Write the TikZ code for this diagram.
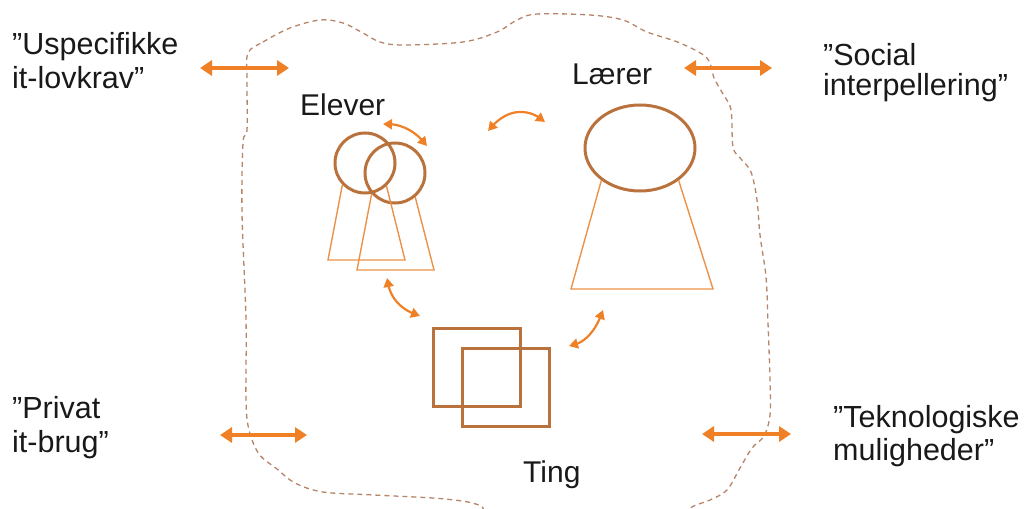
\documentclass[tikz,border=0pt]{standalone}
\usepackage{fontspec}
\newfontfamily\lsans{Liberation Sans}
\usetikzlibrary{arrows.meta,bending,shapes.geometric}
\definecolor{arrorange}{RGB}{240,128,38}
\definecolor{shapebrown}{RGB}{186,114,60}
\definecolor{trapor}{RGB}{236,146,72}
\definecolor{dashbrown}{RGB}{182,132,102}
\definecolor{txt}{RGB}{25,25,25}
\begin{document}
\begin{tikzpicture}[x=1pt,y=-1pt,
  lbl/.style={font=\lsans\fontsize{30.5}{34}\selectfont, text=txt, inner sep=0pt, anchor=north west, align=left},
  tagtext/.style={font=\lsans\fontsize{30}{34}\selectfont, text=txt, inner sep=0pt, anchor=base west},
  boundary/.style={draw=dashbrown, line width=1.3pt, dash pattern=on 5pt off 4pt},
  bigarrow/.style={draw=arrorange, line width=4pt, {Triangle[width=15pt,length=12pt]}-{Triangle[width=15pt,length=12pt]}},
  smallarrow/.style={draw=arrorange, line width=2.2pt, {Triangle[width=10pt,length=9pt,flex]}-{Triangle[width=10pt,length=9pt,flex]}},
  headshape/.style={draw=shapebrown, line width=3pt, inner sep=0pt},
  bodyline/.style={draw=trapor, line width=1.4pt},
  thing/.style={draw=shapebrown, line width=3pt, inner sep=0pt, rectangle, minimum width=87pt, minimum height=78pt}]
\clip (0,0) rectangle (1024,508);
\useasboundingbox (0,0) rectangle (1024,508);

% boundary
\draw[boundary] plot[smooth cycle, tension=0.55] coordinates {
 (248,53) (263,42) (290,28) (320,20) (343,23) (363,33) (380,42) (403,45)
 (463,42) (497,32) (517,20) (537,14) (590,15) (623,20) (647,32) (680,43)
 (707,58) (714,78) (723,94) (731,110) (733,147) (741,159) (751,172) (757,200)
 (760,235) (766,277) (768,323) (770,380) (770,415) (764,436) (752,448)
 (740,468) (727,490) (710,500) (690,508) (672,525) (500,525) (481,506)
 (445,499) (374,495) (323,492) (295,483) (277,469) (259,454) (249,430)
 (246,400) (246,320) (242,213) (243,143) (247,130) (247,80)};

% Elever
\node[headshape, circle, minimum size=60pt] (e1) at (365,163) {};
\node[headshape, circle, minimum size=60pt] (e2) at (395,173) {};
\coordinate (b1l) at (328,260); \coordinate (b1r) at (405,260);
\coordinate (b2l) at (357,270); \coordinate (b2r) at (434,270);
\draw[bodyline] (e1.224) -- (b1l) -- (b1r) -- (e1.-47);
\draw[bodyline] (e2.222) -- (b2l) -- (b2r) -- (e2.-50);
\node[tagtext] (elever) at (300,115) {Elever};

% Laerer
\node[headshape, ellipse, minimum width=110pt, minimum height=86pt] (l) at (640,148) {};
\coordinate (bll) at (571,289); \coordinate (blr) at (713,289);
\draw[bodyline] (l.-140.6) -- (bll) -- (blr) -- (l.-40.1);
\node[tagtext] (laerer) at (572,85) {Lærer};

% Ting
\node[thing] (t1) at (476.5,367) {};
\node[thing] (t2) at (505.5,387) {};
\node[tagtext] (ting) at (523,482) {Ting};

% small curved arrows
\coordinate (a1s) at (383,124); \coordinate (a1e) at (427,146);
\draw[smallarrow] (a1s) .. controls (401,123) and (415.7,131) .. (a1e);
\coordinate (a2s) at (488,131); \coordinate (a2e) at (545,122);
\draw[smallarrow] (a2s) .. controls (505,109) and (527,106) .. (a2e);
\coordinate (a3s) at (387,278); \coordinate (a3e) at (420,316);
\draw[smallarrow] (a3s) .. controls (389,297) and (400,310) .. (a3e);
\coordinate (a4s) at (569,346); \coordinate (a4e) at (603,310);
\draw[smallarrow] (a4s) .. controls (584,344) and (595.7,332) .. (a4e);

% outer labels
\node[lbl] (usp) at (12,32.7) {”Uspecifikke\\it-lovkrav”};
\node[lbl] (soc) at (823,42.7) {”Social\\[-4pt]interpellering”};
\node[lbl] (priv) at (12,395.7) {”Privat\\it-brug”};
\node[lbl] (tek) at (833,404.7) {”Teknologiske\\[-1pt]muligheder”};

% outer arrows
\coordinate (ul1) at (200,68); \coordinate (ul2) at (289,68);
\draw[bigarrow] (ul1) -- (ul2);
\coordinate (ur1) at (684,68); \coordinate (ur2) at (772,68);
\draw[bigarrow] (ur1) -- (ur2);
\coordinate (ll1) at (220,435); \coordinate (ll2) at (307,435);
\draw[bigarrow] (ll1) -- (ll2);
\coordinate (lr1) at (702,434); \coordinate (lr2) at (791,434);
\draw[bigarrow] (lr1) -- (lr2);
\end{tikzpicture}
\end{document}
